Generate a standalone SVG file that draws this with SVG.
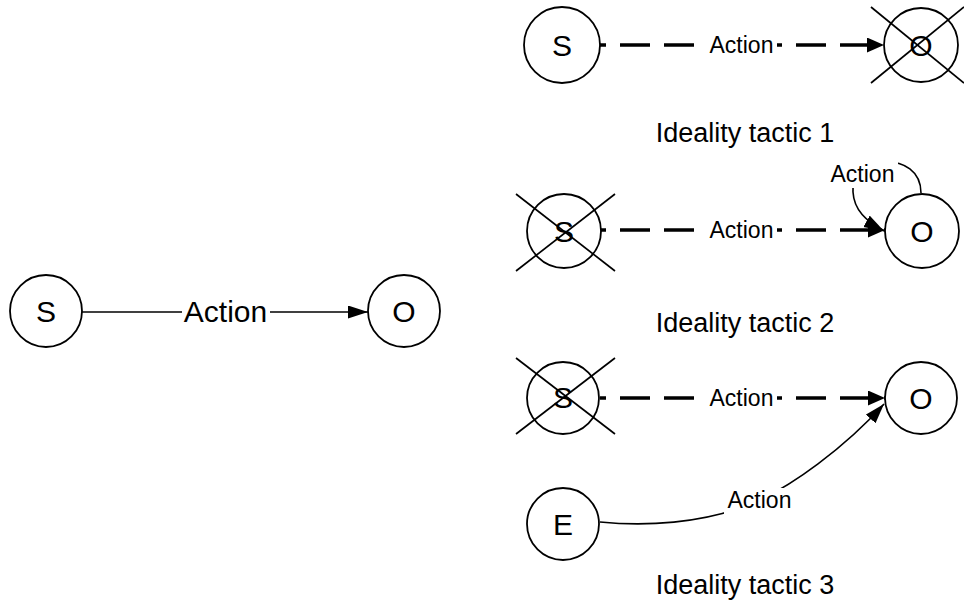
<svg xmlns="http://www.w3.org/2000/svg" width="964" height="604" viewBox="0 0 964 604">
<style>
text{font-family:"Liberation Sans",Arial,Helvetica,sans-serif;fill:#000}
.node{fill:#fff;stroke:#000;stroke-width:1.8}
.big{font-size:30px;text-anchor:middle}
.lbl{font-size:23px;text-anchor:middle}
.cap{font-size:27px;text-anchor:middle}
.thin{fill:none;stroke:#000;stroke-width:1.6}
.dash{fill:none;stroke:#000;stroke-width:3.3;stroke-dasharray:30 14;stroke-dashoffset:24}
.cross{stroke:#000;stroke-width:1.7}
.bg{fill:#fff}
</style>
<defs>
<marker id="arr" markerUnits="userSpaceOnUse" markerWidth="22" markerHeight="15" refX="20" refY="6.5" orient="auto">
<path d="M0,0 L20,6.5 L0,13 Z" fill="#000"/>
</marker>
<marker id="arrd" markerUnits="userSpaceOnUse" markerWidth="19" markerHeight="17" refX="17" refY="7.5" orient="auto">
<path d="M0,0 L17,7.5 L0,15 Z" fill="#000"/>
</marker>
</defs>

<g id="connectors">
<path class="thin" d="M82,312 L368,312" marker-end="url(#arr)"/>
<rect class="bg" x="182" y="297" width="88" height="29"/>
<text class="big" x="225.5" y="322">Action</text>
<path class="dash" d="M600,45 L884,45" marker-end="url(#arrd)"/>
<rect class="bg" x="704" y="33" width="73" height="24"/>
<text class="lbl" x="741.5" y="53">Action</text>
<path class="dash" d="M600,230 L885,230" marker-end="url(#arrd)"/>
<rect class="bg" x="704" y="218" width="73" height="24"/>
<text class="lbl" x="741.5" y="238">Action</text>
<path class="thin" d="M921,193 C921,172 905,160 880,162 C858,164 852,178 853,192 C854,210 866,221 884,231" marker-end="url(#arr)"/>
<rect class="bg" x="828" y="160" width="70" height="28"/>
<text class="lbl" x="862.5" y="182">Action</text>
<path class="dash" d="M600,398 L885,398" marker-end="url(#arrd)"/>
<rect class="bg" x="704" y="386" width="73" height="24"/>
<text class="lbl" x="741.5" y="406">Action</text>
<path class="thin" d="M600,522 C650,527 700,522 740,508 C790,491 850,442 884,404" marker-end="url(#arr)"/>
<rect class="bg" x="724" y="488" width="71" height="26"/>
<text class="lbl" x="759.5" y="508">Action</text>
</g>

<g id="main-S"><circle class="node" cx="46" cy="311" r="36"/><text class="big" x="46" y="322">S</text></g>
<g id="main-O"><circle class="node" cx="404" cy="311" r="36"/><text class="big" x="404" y="322">O</text></g>

<g id="t1-S"><circle class="node" cx="562" cy="45" r="38"/><text class="big" x="562" y="56">S</text></g>
<g id="t1-O"><circle class="node" cx="921" cy="45" r="37"/><text class="big" x="921" y="56">O</text>
<line class="cross" x1="871" y1="7" x2="964" y2="83"/><line class="cross" x1="871" y1="83" x2="964" y2="7"/></g>
<g id="t1-caption"><text class="cap" x="745" y="142">Ideality tactic 1</text></g>

<g id="t2-S"><circle class="node" cx="564" cy="231" r="37"/><text class="big" x="564" y="242">S</text>
<line class="cross" x1="516" y1="194" x2="615" y2="271"/><line class="cross" x1="615" y1="194" x2="516" y2="271"/></g>
<g id="t2-O"><circle class="node" cx="922" cy="231" r="37"/><text class="big" x="922" y="242">O</text></g>
<g id="t2-caption"><text class="cap" x="745" y="332">Ideality tactic 2</text></g>

<g id="t3-S"><circle class="node" cx="563" cy="398" r="36"/><text class="big" x="563" y="408">S</text>
<line class="cross" x1="516" y1="358" x2="615" y2="434"/><line class="cross" x1="615" y1="358" x2="516" y2="434"/></g>
<g id="t3-O"><circle class="node" cx="921" cy="398" r="36"/><text class="big" x="921" y="409">O</text></g>
<g id="t3-E"><circle class="node" cx="563" cy="524" r="36"/><text class="big" x="563" y="535">E</text></g>
<g id="t3-caption"><text class="cap" x="745" y="594">Ideality tactic 3</text></g>
</svg>
